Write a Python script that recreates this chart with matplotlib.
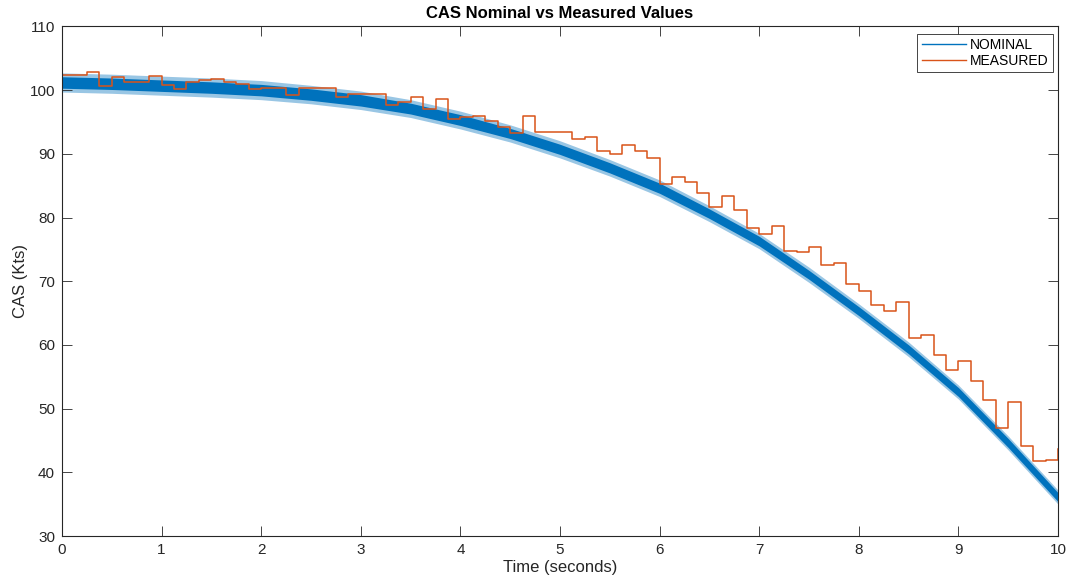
import numpy as np
import matplotlib
matplotlib.use('Agg')
import matplotlib.pyplot as plt
from matplotlib.lines import Line2D

# --- data ---
# measured CAS, sampled every 0.125 s (stairs), last sample only gives the end riser
meas_dt = 0.125
measured = [102.3, 102.3, 102.9, 100.6, 102.0, 101.3, 101.3, 102.2, 100.8, 100.1,
            101.3, 101.6, 101.7, 101.2, 101.0, 100.2, 100.4, 100.4, 99.2, 100.4,
            100.3, 100.3, 98.9, 99.4, 99.4, 99.4, 97.7, 98.2, 98.9, 97.1,
            98.6, 95.4, 95.8, 96.0, 95.1, 94.2, 93.2, 96.0, 93.4, 93.5,
            93.4, 92.3, 92.6, 90.4, 89.9, 91.4, 90.5, 89.3, 85.3, 86.3,
            85.6, 83.9, 81.7, 83.4, 81.2, 78.3, 77.4, 78.7, 74.8, 74.6,
            75.3, 72.5, 72.8, 69.6, 68.5, 66.3, 65.3, 66.8, 61.1, 61.5,
            58.4, 56.1, 57.5, 54.3, 51.4, 46.9, 51.1, 44.1, 41.8, 41.9,
            43.7]

# nominal CAS: centre of the noisy trace every 0.5 s, plus the noise half-widths
nom_time = [0.0, 0.5, 1.0, 1.5, 2.0, 2.5, 3.0, 3.5, 4.0, 4.5, 5.0,
            5.5, 6.0, 6.5, 7.0, 7.5, 8.0, 8.5, 9.0, 9.5, 10.0]
nominal = [101.2, 101.0, 100.7, 100.4, 100.0, 99.3, 98.4, 97.1, 95.3, 93.2, 90.7,
           87.8, 84.6, 80.6, 76.3, 71.0, 65.3, 59.3, 52.6, 44.6, 36.1]
noise_core = [0.9, 0.9, 0.9, 0.9, 0.9, 0.9, 0.9, 0.85, 0.85, 0.8, 0.8,
              0.8, 0.8, 0.75, 0.75, 0.7, 0.7, 0.7, 0.7, 0.7, 0.7]
noise_peak = [1.5, 1.5, 1.5, 1.5, 1.5, 1.45, 1.45, 1.4, 1.4, 1.35, 1.35,
              1.3, 1.3, 1.25, 1.2, 1.2, 1.15, 1.15, 1.1, 1.1, 1.1]

x_ticks = [0, 1, 2, 3, 4, 5, 6, 7, 8, 9, 10]
y_ticks = [30, 40, 50, 60, 70, 80, 90, 100, 110]

blue = '#0072BD'
orange = '#D95319'
axcol = '#262626'

plt.rcParams['font.family'] = ['Liberation Sans', 'DejaVu Sans']

fig = plt.figure(figsize=(10.67, 5.82), dpi=100)
ax = fig.add_axes([0.0581, 0.079, 0.9335, 0.8756])

nt = np.array(nom_time)
nc = np.array(nominal)
core = np.array(noise_core)
peak = np.array(noise_peak)

ax.fill_between(nt, nc - peak, nc + peak, color=blue, alpha=0.4, lw=0)
ax.fill_between(nt, nc - core, nc + core, color=blue, lw=0)
ax.plot(nt, nc, color=blue, lw=1.0)

mt = np.arange(len(measured)) * meas_dt
ax.step(mt, measured, where='post', color=orange, lw=1.1)

ax.set_xlim(0, 10)
ax.set_ylim(30, 110)
ax.set_xticks(x_ticks)
ax.set_yticks(y_ticks)
ax.tick_params(direction='in', length=7.5, width=0.6, top=True, right=True,
               labelsize=11, colors=axcol, pad=5)
for s in ax.spines.values():
    s.set_color(axcol)
    s.set_linewidth(0.8)

ax.set_xlabel('Time (seconds)', fontsize=12, color=axcol, labelpad=2)
ax.set_ylabel('CAS (Kts)', fontsize=12, color=axcol, labelpad=1)
ax.set_title('CAS Nominal vs Measured Values', fontsize=12, fontweight='bold',
             color='black', pad=6)

handles = [Line2D([], [], color=blue, lw=1.0), Line2D([], [], color=orange, lw=1.0)]
leg = ax.legend(handles, ['NOMINAL', 'MEASURED'], loc='upper right',
                bbox_to_anchor=(0.995, 0.985), borderaxespad=0, fontsize=10,
                fancybox=False, framealpha=1, edgecolor=axcol, handlelength=3.2,
                handletextpad=0.3, borderpad=0.3, labelspacing=0.1)
leg.get_frame().set_linewidth(0.6)

fig.savefig('out.png', dpi=100)
